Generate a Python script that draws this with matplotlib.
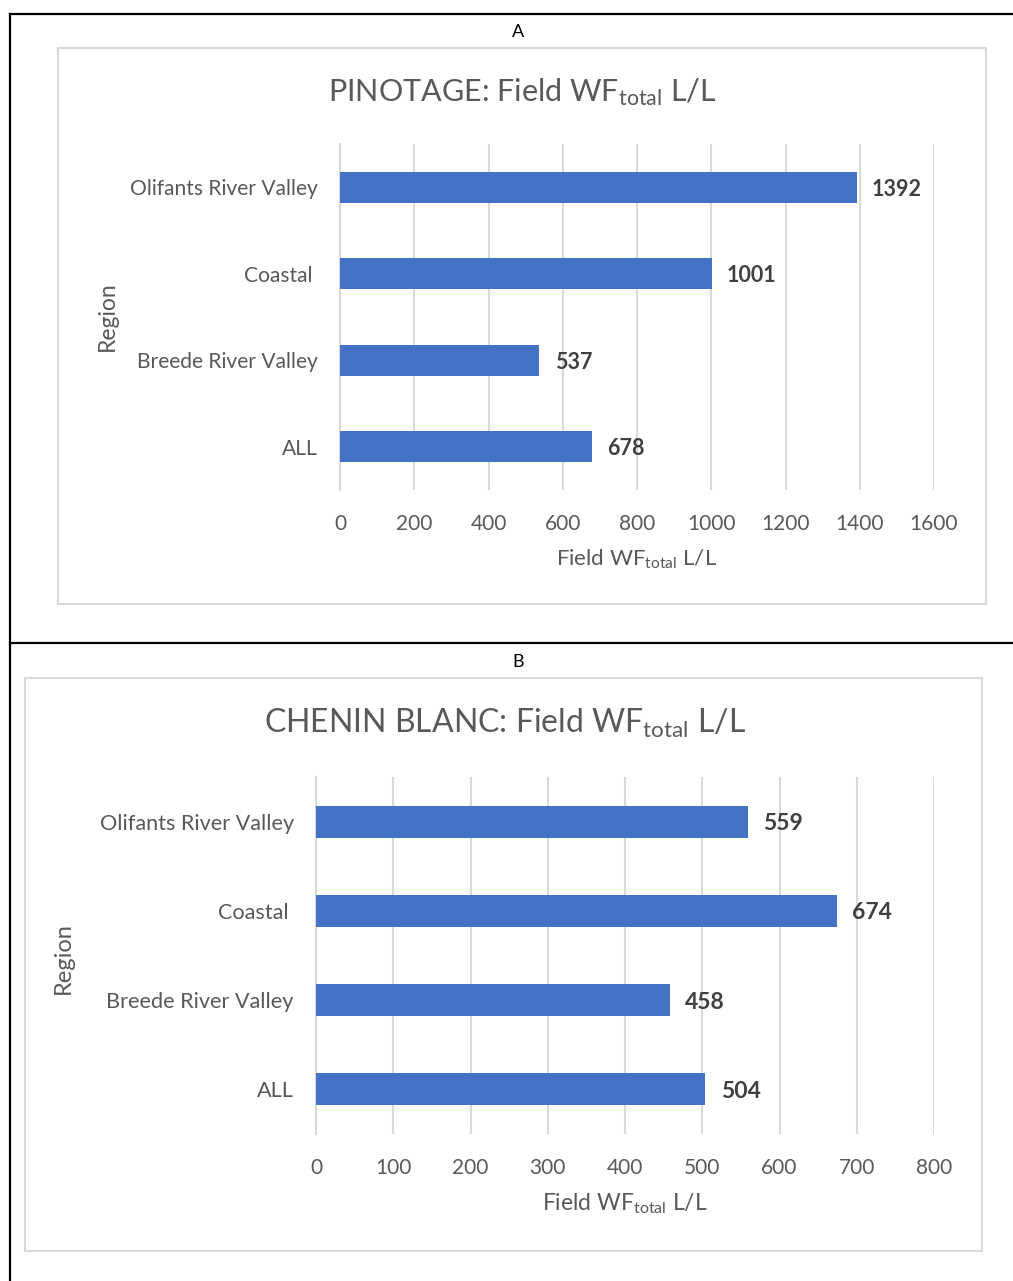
import matplotlib
matplotlib.use("Agg")
import matplotlib.pyplot as plt
from matplotlib.patches import Rectangle
from matplotlib.lines import Line2D

# ---- data ----
regions = ["Olifants River Valley", "Coastal ", "Breede River Valley", "ALL"]
pinotage_wf = [1392, 1001, 537, 678]
chenin_wf = [559, 674, 458, 504]
pinotage_ticks = [0, 200, 400, 600, 800, 1000, 1200, 1400, 1600]
chenin_ticks = [0, 100, 200, 300, 400, 500, 600, 700, 800]
panel_letters = ["A", "B"]
titles = ["PINOTAGE: Field WF$_{\\mathregular{total}}$ L/L",
          "CHENIN BLANC: Field WF$_{\\mathregular{total}}$ L/L"]
xlabel = "Field WF$_{\\mathregular{total}}$ L/L"
ylabel = "Region"

FONT = "Lato"
plt.rcParams["font.family"] = [FONT, "DejaVu Sans"]
plt.rcParams["mathtext.fontset"] = "custom"
plt.rcParams["mathtext.rm"] = FONT
plt.rcParams["mathtext.default"] = "regular"

W, H = 1013, 1281
DPI = 100
fig = plt.figure(figsize=(W / DPI, H / DPI), dpi=DPI)
fig.patch.set_facecolor("white")

BAR = "#4472C4"
GRID = "#D9D9D9"
TXT = "#595959"
VAL = "#404040"


def fx(px):
    return px / W


def fy(py):
    return 1 - py / H


def add_axes_px(left, top, right, bottom):
    return fig.add_axes([fx(left), fy(bottom), fx(right - left), (bottom - top) / H])


# outer frame lines of the layout table
for (x0, y0, x1, y1) in [(10, 14, W, 14), (10, 643, W, 643), (10, 14, 10, H)]:
    fig.add_artist(Line2D([fx(x0), fx(x1)], [fy(y0), fy(y1)], color="black",
                          lw=1.6, transform=fig.transFigure))

panels = [
    dict(values=pinotage_wf, ticks=pinotage_ticks, letter_y=32,
         box=(58, 48, 986, 604), ax=(340, 144, 934, 490),
         title_xy=(522, 92), region_xy=(107, 316), xlabel_y=559,
         fs_cat=15.1, fs_num=15, fs_val=15.5, fs_title=22, fs_xlab=16, fs_ylab=16.5),
    dict(values=chenin_wf, ticks=chenin_ticks, letter_y=662,
         box=(25, 678, 982, 1251), ax=(316, 777, 934, 1134),
         title_xy=(505, 723), region_xy=(63, 958), xlabel_y=1204,
         fs_cat=15.6, fs_num=15, fs_val=16.5, fs_title=23, fs_xlab=16.5, fs_ylab=17),
]

for i, p in enumerate(panels):
    fig.text(fx(518), fy(p["letter_y"]), panel_letters[i], ha="center", va="center",
             fontsize=13, color="black")

    bx0, by0, bx1, by1 = p["box"]
    fig.add_artist(Rectangle((fx(bx0), fy(by1)), fx(bx1 - bx0), (by1 - by0) / H,
                             transform=fig.transFigure, facecolor="none",
                             edgecolor=GRID, lw=1.5, zorder=-1))

    ax = add_axes_px(*p["ax"])
    ypos = list(range(len(regions)))[::-1]
    ax.barh(ypos, p["values"], height=0.36, color=BAR, zorder=3)
    ax.set_ylim(-0.5, len(regions) - 0.5)
    ax.set_xlim(p["ticks"][0], p["ticks"][-1])
    ax.set_xticks(p["ticks"])
    ax.set_xticklabels([str(t) for t in p["ticks"]])
    ax.set_yticks(ypos)
    ax.set_yticklabels(regions)
    ax.grid(axis="x", color=GRID, lw=1.5, zorder=0)
    for s in ["top", "right", "bottom"]:
        ax.spines[s].set_visible(False)
    ax.spines["left"].set_color(GRID)
    ax.spines["left"].set_linewidth(1.5)
    ax.tick_params(axis="both", length=0, labelcolor=TXT)
    ax.tick_params(axis="x", pad=17, labelsize=p["fs_num"])
    ax.tick_params(axis="y", pad=16, labelsize=p["fs_cat"])
    ax.set_facecolor("none")

    for y, v in zip(ypos, p["values"]):
        ax.annotate(str(v), (v, y), xytext=(11, -1.5), textcoords="offset points",
                    ha="left", va="center", fontsize=p["fs_val"], fontweight="bold",
                    color=VAL)

    tx, ty = p["title_xy"]
    fig.text(fx(tx), fy(ty), titles[i], ha="center", va="center",
             fontsize=p["fs_title"], color=TXT)
    rx, ry = p["region_xy"]
    fig.text(fx(rx), fy(ry), ylabel, ha="center", va="center", rotation=90,
             fontsize=p["fs_ylab"], color=TXT)
    ax_l, _, ax_r, _ = p["ax"]
    fig.text(fx((ax_l + ax_r) / 2), fy(p["xlabel_y"]), xlabel, ha="center", va="center",
             fontsize=p["fs_xlab"], color=TXT)

fig.savefig("out.png", dpi=DPI)
